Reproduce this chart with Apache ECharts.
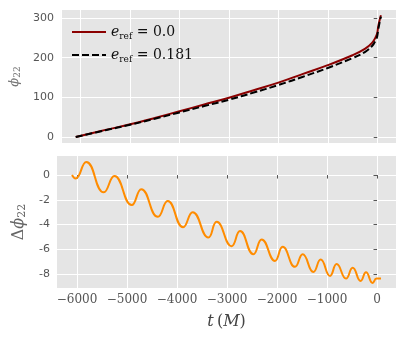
<!DOCTYPE html>
<html>
<head>
<meta charset="utf-8">
<script src="https://cdn.jsdelivr.net/npm/echarts@6/dist/echarts.min.js"></script>
<style>
html, body { margin: 0; padding: 0; background: #fff; }
#chart { width: 407px; height: 339px; }
</style>
</head>
<body>
<div id="chart"></div>
<script>
// phase
var tPhase = [-6100, -5500, -5000, -4500, -4000, -3500, -3000, -2500, -2000, -1500, -1000, -500, -250, -100, -30, 0, 20, 50, 75];
var phiCirc = [0, 18, 32, 48, 65, 82, 99, 118, 137, 159, 181, 206, 222, 238, 252, 262, 278, 295, 307];
var phiEcc = [0, 17, 31, 46, 62, 78, 94, 112, 131, 152, 174, 199, 214, 230, 244, 254, 270, 290, 303];

// phase difference (peaks and troughs)
var tDiff = [-6100, -6030, -5815, -5465, -5253, -4905, -4715, -4383, -4187, -3878, -3687, -3373, -3207, -2907, -2740, -2473, -2307, -2040, -1887, -1640, -1487, -1273, -1127, -940, -807, -620, -487, -327, -220, -87, -10, 80];
var dPhi = [0, -0.28, 1.06, -1.4, -0.08, -2.43, -1.14, -3.38, -2.1, -4.22, -3.0, -5.05, -3.78, -5.75, -4.53, -6.4, -5.2, -6.94, -5.8, -7.42, -6.4, -7.83, -6.83, -8.15, -7.2, -8.37, -7.5, -8.56, -7.85, -8.72, -8.37, -8.37];

var xTicks = [-6000, -5000, -4000, -3000, -2000, -1000, 0];
var phiTicks = [0, 100, 200, 300];
var dPhiTicks = [-8, -6, -4, -2, 0];

function pairs(xs, ys) {
  return xs.map(function (x, i) { return [x, ys[i]]; });
}

var tickGray = '#555555';
var serif = '"DejaVu Serif", "Liberation Serif", serif';

var chart = echarts.init(document.getElementById('chart'));
chart.setOption({
  animation: false,
  grid: [
    { left: 57, top: 10, width: 339, height: 133, show: true, backgroundColor: '#E5E5E5', borderWidth: 0 },
    { left: 57, top: 156, width: 339, height: 132, show: true, backgroundColor: '#E5E5E5', borderWidth: 0 }
  ],
  legend: {
    orient: 'vertical',
    left: 66,
    top: 20,
    itemWidth: 34,
    itemHeight: 14,
    itemGap: 7,
    itemStyle: { opacity: 0 },
    data: ['circ', 'ecc'],
    formatter: function (name) {
      return name === 'circ'
        ? '{i|e}{s|ref}{n| = 0.0}'
        : '{i|e}{s|ref}{n| = 0.181}';
    },
    textStyle: {
      color: '#111',
      rich: {
        i: { fontFamily: serif, fontStyle: 'italic', fontSize: 14 },
        s: { fontFamily: serif, fontSize: 9, padding: [9, 0, 0, 0] },
        n: { fontFamily: serif, fontSize: 14 }
      }
    }
  },
  xAxis: [
    {
      gridIndex: 0, type: 'value', min: -6400, max: 380, splitNumber: 7,
      axisLine: { show: false }, axisTick: { show: false }, axisLabel: { show: false },
      splitLine: { lineStyle: { color: '#ffffff', width: 1 } }
    },
    {
      gridIndex: 1, type: 'value', min: -6400, max: 380, splitNumber: 7,
      axisLine: { show: false },
      axisTick: { show: true, length: 3.5, lineStyle: { color: tickGray }, customValues: xTicks },
      axisLabel: {
        customValues: xTicks, margin: 6, color: tickGray, fontFamily: serif, fontSize: 12,
        formatter: function (v) { return v < 0 ? '\u2212' + Math.abs(v) : String(v); }
      },
      splitLine: { lineStyle: { color: '#ffffff', width: 1 } },
      name: '{i|t} {n|(}{i|M}{n|)}',
      nameLocation: 'middle',
      nameGap: 26,
      nameTextStyle: {
        color: '#444',
        rich: {
          i: { fontFamily: serif, fontStyle: 'italic', fontSize: 16, color: '#444' },
          n: { fontFamily: serif, fontSize: 16, color: '#444' }
        }
      }
    }
  ],
  yAxis: [
    {
      gridIndex: 0, type: 'value', min: -15, max: 320, splitNumber: 3,
      axisLine: { show: false },
      axisTick: { show: true, length: 3.5, lineStyle: { color: tickGray }, customValues: phiTicks },
      axisLabel: { customValues: phiTicks, margin: 7, color: tickGray, fontFamily: 'DejaVu Sans', fontSize: 11 },
      splitLine: { lineStyle: { color: '#ffffff', width: 1 } },
      name: '{i|\u03d5}{s|22}',
      nameLocation: 'middle',
      nameRotate: 90,
      nameGap: 31,
      nameTextStyle: {
        color: '#777',
        rich: {
          i: { fontFamily: serif, fontStyle: 'italic', fontSize: 13, color: '#777' },
          s: { fontFamily: serif, fontSize: 9, color: '#777', padding: [6, 0, 0, 0] }
        }
      }
    },
    {
      gridIndex: 1, type: 'value', min: -9.13, max: 1.54, splitNumber: 5,
      axisLine: { show: false },
      axisTick: { show: true, length: 3.5, lineStyle: { color: tickGray }, customValues: dPhiTicks },
      axisLabel: { customValues: dPhiTicks, margin: 7, color: tickGray, fontFamily: 'DejaVu Sans', fontSize: 11 },
      splitLine: { lineStyle: { color: '#ffffff', width: 1 } },
      name: '{n|\u0394}{i|\u03d5}{s|22}',
      nameLocation: 'middle',
      nameRotate: 90,
      nameGap: 20,
      nameTextStyle: {
        color: '#666',
        rich: {
          n: { fontFamily: serif, fontSize: 16, color: '#666' },
          i: { fontFamily: serif, fontStyle: 'italic', fontSize: 16, color: '#666' },
          s: { fontFamily: serif, fontSize: 11, color: '#666', padding: [7, 0, 0, 0] }
        }
      }
    }
  ],
  series: [
    {
      name: 'circ', type: 'line', xAxisIndex: 0, yAxisIndex: 0,
      data: pairs(tPhase, phiCirc), smooth: 0.4, symbol: 'none',
      lineStyle: { color: '#8B0000', width: 2 }, itemStyle: { color: '#8B0000' }
    },
    {
      name: 'ecc', type: 'line', xAxisIndex: 0, yAxisIndex: 0,
      data: pairs(tPhase, phiEcc), smooth: 0.4, symbol: 'none',
      lineStyle: { color: '#000000', width: 2, type: [7, 3] }, itemStyle: { color: '#000000' }
    },
    {
      name: 'diff', type: 'line', xAxisIndex: 1, yAxisIndex: 1,
      data: pairs(tDiff, dPhi), smooth: 0.5, symbol: 'none',
      lineStyle: { color: '#FF8C00', width: 2 }, itemStyle: { color: '#FF8C00' }
    }
  ]
});
</script>
</body>
</html>
